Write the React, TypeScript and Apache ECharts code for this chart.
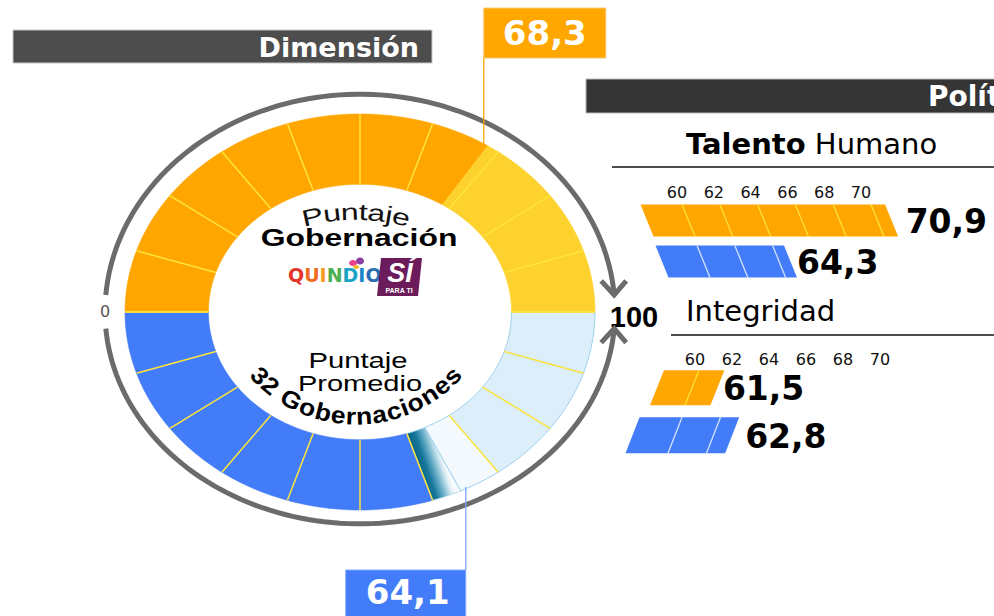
import React, { useEffect, useRef } from "react";
import * as echarts from "echarts";

// ---------------- data ----------------
const govScore = 68.3; // Puntaje Gobernación (Quindío)
const avgScore = 64.1; // Puntaje Promedio 32 Gobernaciones
const ringBounds = [0, 10, 20, 30, 40, 50, 60, 70, 80, 90, 100];
const rowNames = ["Gobernación", "Promedio 32 Gobernaciones"];
const talentoValues = [70.9, 64.3];
const integridadValues = [61.5, 62.8];
const tickLabels = ["60", "62", "64", "66", "68", "70"];

// ---------------- layout / style ----------------
const CX = 360, CY = 312, RX = 235, RY = 198;
const SPAN = 1.15;
const R_IN = 0.645;
const ORANGE = "#FFA600";
const YELLOW = "#FDD22E";
const BLUE = "#437CF9";
const LIGHTBLUE = "#DDEEFB";
const PALE = "#F3F9FC";
const FILLS = [ORANGE, YELLOW, BLUE, LIGHTBLUE, BLUE, PALE];
const BAR_FILLS = [ORANGE, BLUE];
const DIV_COLORS = ["#FFE13A", "#D3E2FF"];

const fmt = (v: number) => v.toFixed(1).replace(".", ",");

function buildRingSegments() {
  const segs: number[][] = [];
  for (let i = 0; i < ringBounds.length - 1; i++) {
    const a = ringBounds[i], b = ringBounds[i + 1];
    if (b <= govScore) segs.push([a, b, 0, 0]);
    else if (a >= govScore) segs.push([a, b, 0, 1]);
    else { segs.push([a, govScore, 0, 0]); segs.push([govScore, b, 0, 1]); }
    if (b <= avgScore) segs.push([a, b, 1, 2]);
    else if (a >= avgScore) segs.push([a, b, 1, 3]);
    else { segs.push([a, avgScore, 1, 4]); segs.push([avgScore, b, 1, 5]); }
  }
  return segs;
}

const angleOf = (v: number, half: number) =>
  half === 0 ? Math.PI * (1 - v / 100) : Math.PI * (1 + v / 100);
const ept = (api: any, v: number, half: number, rx: number, ry?: number) => {
  const t = angleOf(v, half);
  const r2 = ry === undefined ? rx : ry;
  return api.coord([rx * Math.cos(t), r2 * Math.sin(t)]);
};

let measureCtx: any = null;
function measure(ch: string, font: string) {
  if (!measureCtx) measureCtx = document.createElement("canvas").getContext("2d");
  measureCtx.font = font;
  return measureCtx.measureText(ch).width;
}

function arcText(str: string, cx: number, cy: number, r: number, fontSize: number, weight: string,
  family: string, scaleX: number, up: boolean, fill: string) {
  const font = `${weight} ${fontSize}px "${family}"`;
  const chars = Array.from(str);
  const widths = chars.map((c) => measure(c, font) * scaleX);
  const total = widths.reduce((a, b) => a + b, 0);
  let s = -total / 2;
  const els: any[] = [];
  chars.forEach((c, i) => {
    const mid = s + widths[i] / 2;
    s += widths[i];
    if (c === " ") return;
    const a = mid / r;
    const x = cx + r * Math.sin(a);
    const y = up ? cy - r * Math.cos(a) : cy + r * Math.cos(a);
    els.push({
      type: "text", x, y, rotation: up ? -a : a, scaleX,
      style: { text: c, fontSize, fontWeight: weight, fontFamily: family, fill,
        align: "center", verticalAlign: "middle" },
    });
  });
  return els;
}

function barSeries(values: number[], axisIdx: number, cfg: any) {
  return {
    type: "custom",
    coordinateSystem: "cartesian2d",
    xAxisIndex: axisIdx,
    yAxisIndex: axisIdx,
    data: values.map((v, i) => [v, i]),
    renderItem: (params: any, api: any) => {
      const i = params.dataIndex;
      const v = api.value(0);
      const row = api.value(1);
      const base = api.coord([cfg.min, row]);
      const endc = api.coord([v, row]);
      const x0 = base[0] + cfg.inset[i];
      const x1 = x0 + (endc[0] - base[0]);
      const yc = base[1];
      const h = cfg.height[i];
      const s = cfg.skew;
      const y0 = yc - h / 2, y1 = yc + h / 2;
      const children: any[] = [
        {
          type: "polygon",
          shape: { points: [[x0 - s, y0], [x1 - s, y0], [x1 + s, y1], [x0 + s, y1]] },
          style: { fill: BAR_FILLS[i] },
        },
      ];
      for (let x = x0 + cfg.first[i]; x < x1 - 4; x += cfg.step) {
        children.push({
          type: "line",
          shape: { x1: x - s, y1: y0, x2: x + s, y2: y1 },
          style: { stroke: DIV_COLORS[i], lineWidth: 1.3 },
        });
      }
      children.push({
        type: "text",
        x: x1 + cfg.gap[i],
        y: yc + 1,
        style: { text: fmt(v), fontSize: 33, fontWeight: "bold", fontFamily: "DejaVu Sans",
          fill: "#000", align: "left", verticalAlign: "middle" },
      });
      return { type: "group", children };
    },
  };
}

function tickAxis(gridIndex: number) {
  return {
    gridIndex, type: "category", data: tickLabels, boundaryGap: false,
    axisLine: { show: false }, axisTick: { show: false }, splitLine: { show: false },
    axisLabel: { interval: 0, margin: 2, fontSize: 16, fontFamily: "DejaVu Sans", color: "#111" },
  };
}

function buildOption() {
  const segs = buildRingSegments();
  const dividers: number[][] = [];
  ringBounds.forEach((v) => { dividers.push([v, 0]); dividers.push([v, 1]); });

  const graphic: any[] = [
    { type: "rect", shape: { x: 13, y: 30, width: 419, height: 33 },
      style: { fill: "#4D4D4D", stroke: "#C8C8C8", lineWidth: 1 } },
    { type: "text", x: 419, y: 47, style: { text: "Dimensión", fontSize: 27, fontWeight: "bold",
      fontFamily: "DejaVu Sans", fill: "#fff", align: "right", verticalAlign: "middle" } },
    { type: "rect", shape: { x: 586, y: 79, width: 420, height: 34 },
      style: { fill: "#353535", stroke: "#BBBBBB", lineWidth: 1 } },
    { type: "text", x: 928, y: 96, style: { text: "Políticas", fontSize: 28, fontWeight: "bold",
      fontFamily: "DejaVu Sans", fill: "#fff", align: "left", verticalAlign: "middle" } },
    { type: "text", x: 686, y: 144, style: {
      text: "{b|Talento} {n|Humano}", fontSize: 29, fontFamily: "DejaVu Sans", fill: "#000",
      align: "left", verticalAlign: "middle",
      rich: { b: { fontSize: 29, fontWeight: "bold", fontFamily: "DejaVu Sans", fill: "#000" },
        n: { fontSize: 29, fontFamily: "DejaVu Sans", fill: "#000" } } } },
    { type: "line", shape: { x1: 612, y1: 167, x2: 994, y2: 167 }, style: { stroke: "#111", lineWidth: 1.5 } },
    { type: "text", x: 686, y: 311, style: { text: "Integridad", fontSize: 29, fontFamily: "DejaVu Sans",
      fill: "#000", align: "left", verticalAlign: "middle" } },
    { type: "line", shape: { x1: 671, y1: 335, x2: 994, y2: 335 }, style: { stroke: "#111", lineWidth: 1.5 } },
    { type: "text", x: 105, y: 311, style: { text: "0", fontSize: 16, fontFamily: "DejaVu Sans",
      fill: "#555", align: "center", verticalAlign: "middle" } },
    { type: "text", x: 634, y: 317, style: { text: "100", fontSize: 29, fontWeight: "bold",
      fontFamily: "Liberation Sans", fill: "#000", align: "center", verticalAlign: "middle" } },
    // centre texts
    ...arcText("Puntaje", 356, 412, 200, 23, "normal", "Liberation Sans", 1.4, true, "#111"),
    { type: "text", x: 359, y: 238, scaleX: 1.33, style: { text: "Gobernación", fontSize: 24,
      fontWeight: "bold", fontFamily: "Liberation Sans", fill: "#000", align: "center", verticalAlign: "middle" } },
    { type: "text", x: 358, y: 360, scaleX: 1.33, style: { text: "Puntaje", fontSize: 22,
      fontFamily: "Liberation Sans", fill: "#000", align: "center", verticalAlign: "middle" } },
    { type: "text", x: 360, y: 383, scaleX: 1.32, style: { text: "Promedio", fontSize: 22,
      fontFamily: "Liberation Sans", fill: "#000", align: "center", verticalAlign: "middle" } },
    ...arcText("32 Gobernaciones", 356, 282, 134, 24, "bold", "Liberation Sans", 1.1, false, "#000"),
    // logo
    { type: "ellipse", shape: { cx: 353, cy: 263, rx: 4, ry: 3 }, style: { fill: "#E8418F" } },
    { type: "ellipse", shape: { cx: 360, cy: 261, rx: 4, ry: 3.5 }, style: { fill: "#8B3FA0" } },
    { type: "ellipse", shape: { cx: 356, cy: 267, rx: 3, ry: 2 }, style: { fill: "#F6B928" } },
    { type: "text", x: 288, y: 275, style: {
      text: "{a|Q}{b|U}{c|I}{d|N}{e|D}{f|I}{g|O}", align: "left", verticalAlign: "middle",
      fontSize: 19, fontWeight: "bold", fontFamily: "DejaVu Sans",
      rich: {
        a: { fill: "#E63329", fontSize: 19, fontWeight: "bold", fontFamily: "DejaVu Sans" },
        b: { fill: "#F06A22", fontSize: 19, fontWeight: "bold", fontFamily: "DejaVu Sans" },
        c: { fill: "#F39C1F", fontSize: 19, fontWeight: "bold", fontFamily: "DejaVu Sans" },
        d: { fill: "#4CAF50", fontSize: 19, fontWeight: "bold", fontFamily: "DejaVu Sans" },
        e: { fill: "#1AA3C4", fontSize: 19, fontWeight: "bold", fontFamily: "DejaVu Sans" },
        f: { fill: "#1B86C8", fontSize: 19, fontWeight: "bold", fontFamily: "DejaVu Sans" },
        g: { fill: "#2A6FB5", fontSize: 19, fontWeight: "bold", fontFamily: "DejaVu Sans" },
      } } },
    { type: "polygon", shape: { points: [[381, 258], [422, 258], [418, 296], [377, 296]] },
      style: { fill: "#6C1B5B" } },
    { type: "text", x: 400, y: 273, style: { text: "SÍ", fontSize: 27, fontWeight: "bold", fontStyle: "italic",
      fontFamily: "Liberation Sans", fill: "#fff", align: "center", verticalAlign: "middle" } },
    { type: "text", x: 399, y: 290, style: { text: "PARA TI", fontSize: 7, fontWeight: "bold",
      fontFamily: "Liberation Sans", fill: "#fff", align: "center", verticalAlign: "middle" } },
  ];

  return {
    animation: false,
    backgroundColor: "#fff",
    grid: [
      { left: CX - SPAN * RX, top: CY - SPAN * RY, width: 2 * SPAN * RX, height: 2 * SPAN * RY },
      { left: 677, top: 181, width: 184, height: 1 },
      { left: 647, top: 200, width: 264, height: 82 },
      { left: 695, top: 348, width: 185, height: 1 },
      { left: 657, top: 364, width: 181.2, height: 95 },
    ],
    xAxis: [
      { gridIndex: 0, type: "value", min: -SPAN, max: SPAN, show: false },
      tickAxis(1),
      { gridIndex: 2, type: "value", min: 57, max: 72, show: false },
      tickAxis(3),
      { gridIndex: 4, type: "value", min: 59.5, max: 65.5, show: false },
    ],
    yAxis: [
      { gridIndex: 0, type: "value", min: -SPAN, max: SPAN, show: false },
      { gridIndex: 1, type: "value", show: false },
      { gridIndex: 2, type: "category", data: rowNames, inverse: true, show: false },
      { gridIndex: 3, type: "value", show: false },
      { gridIndex: 4, type: "category", data: rowNames, inverse: true, show: false },
    ],
    graphic,
    series: [
      {
        type: "custom", coordinateSystem: "cartesian2d", xAxisIndex: 0, yAxisIndex: 0, z: 2,
        data: segs,
        renderItem: (params: any, api: any) => {
          const v0 = api.value(0), v1 = api.value(1), half = api.value(2), kind = api.value(3);
          const steps = Math.max(2, Math.ceil(v1 - v0));
          const pts: any[] = [];
          for (let k = 0; k <= steps; k++) pts.push(ept(api, v0 + ((v1 - v0) * k) / steps, half, 1));
          for (let k = steps; k >= 0; k--) pts.push(ept(api, v0 + ((v1 - v0) * k) / steps, half, R_IN));
          let fill: any = FILLS[kind];
          let stroke: any = FILLS[kind];
          let lw = 0.6;
          if (kind === 4) {
            const p0 = ept(api, v0, half, 0.85), p1 = ept(api, v1, half, 0.85);
            fill = { type: "linear", x: p0[0], y: p0[1], x2: p1[0], y2: p1[1], global: true,
              colorStops: [{ offset: 0, color: "#07658A" }, { offset: 0.25, color: "#1A7A9D" },
                { offset: 0.55, color: "#6FB1CA" }, { offset: 0.85, color: "#D9ECF3" }, { offset: 1, color: "#F7FBFD" }] };
            stroke = "#A5D6EF"; lw = 0.8;
          }
          if (kind === 3 || kind === 5) { stroke = "#9FD3EE"; lw = 1; }
          return { type: "polygon", shape: { points: pts }, style: { fill, stroke, lineWidth: lw } };
        },
      },
      {
        type: "custom", coordinateSystem: "cartesian2d", xAxisIndex: 0, yAxisIndex: 0, z: 3,
        data: dividers,
        renderItem: (params: any, api: any) => {
          const v = api.value(0), half = api.value(1);
          const a = ept(api, v, half, R_IN), b = ept(api, v, half, 1);
          return { type: "line", shape: { x1: a[0], y1: a[1], x2: b[0], y2: b[1] },
            style: { stroke: "#FFE53B", lineWidth: 1.5 } };
        },
      },
      {
        type: "custom", coordinateSystem: "cartesian2d", xAxisIndex: 0, yAxisIndex: 0, z: 3,
        data: [[0], [1]],
        renderItem: (params: any, api: any) => {
          const half = api.value(0);
          const rx = 1.085, ry = half === 0 ? 1.1 : 1.07;
          const pts: any[] = [];
          for (let v = 2.5; v <= 97.5; v += 1) pts.push(ept(api, v, half, rx, ry));
          const e = ept(api, 97.5, half, rx, ry);
          const d = half === 0 ? -14 : 14;
          return {
            type: "group",
            children: [
              { type: "polyline", shape: { points: pts }, style: { stroke: "#6B6B6B", lineWidth: 5, fill: null } },
              { type: "polyline", shape: { points: [[e[0] - 13, e[1] + d], [e[0], e[1]], [e[0] + 12, e[1] + d]] },
                style: { stroke: "#6B6B6B", lineWidth: 5, fill: null } },
            ],
          };
        },
      },
      {
        type: "custom", coordinateSystem: "cartesian2d", xAxisIndex: 0, yAxisIndex: 0, z: 5,
        data: [[govScore, 0], [avgScore, 1]],
        renderItem: (params: any, api: any) => {
          const v = api.value(0), half = api.value(1);
          const p = ept(api, v, half, 1);
          if (half === 0) {
            const lx = p[0] - 4;
            return { type: "group", children: [
              { type: "line", shape: { x1: lx, y1: p[1], x2: lx, y2: 58 }, style: { stroke: ORANGE, lineWidth: 1.3 } },
              { type: "rect", shape: { x: lx, y: 8, width: 122, height: 50 }, style: { fill: ORANGE, stroke: "#F9C877", lineWidth: 1 } },
              { type: "text", x: lx + 61, y: 33, style: { text: fmt(v), fontSize: 34, fontWeight: "bold",
                fontFamily: "DejaVu Sans", fill: "#fff", align: "center", verticalAlign: "middle" } },
            ] };
          }
          const lx = p[0] + 5;
          return { type: "group", children: [
            { type: "line", shape: { x1: lx, y1: p[1] - 4, x2: lx, y2: 570 }, style: { stroke: "#7EA8FF", lineWidth: 1.3 } },
            { type: "rect", shape: { x: lx - 120, y: 570, width: 120, height: 60 }, style: { fill: BLUE, stroke: "#7EA8FF", lineWidth: 1 } },
            { type: "text", x: lx - 58, y: 592, style: { text: fmt(v), fontSize: 34, fontWeight: "bold",
              fontFamily: "DejaVu Sans", fill: "#fff", align: "center", verticalAlign: "middle" } },
          ] };
        },
      },
      barSeries(talentoValues, 2, { min: 57, inset: [0, 15], height: [32, 32], skew: 6.5,
        first: [41.5, 41.5], step: 37.8, gap: [14, 6.5] }),
      barSeries(integridadValues, 4, { min: 59.5, inset: [0, -24.5], height: [35, 36], skew: -7,
        first: [35, 42.5], step: 38.5, gap: [5.5, 13] }),
    ],
  };
}

export default function App() {
  const ref = useRef<HTMLDivElement>(null);
  useEffect(() => {
    const chart = echarts.init(ref.current as HTMLDivElement, undefined, { renderer: "svg" });
    chart.setOption(buildOption() as any);
    return () => chart.dispose();
  }, []);
  return (
    <div
      ref={ref}
      style={{ position: "fixed", left: 0, top: 0, width: 994, height: 616, background: "#fff" }}
    />
  );
}
